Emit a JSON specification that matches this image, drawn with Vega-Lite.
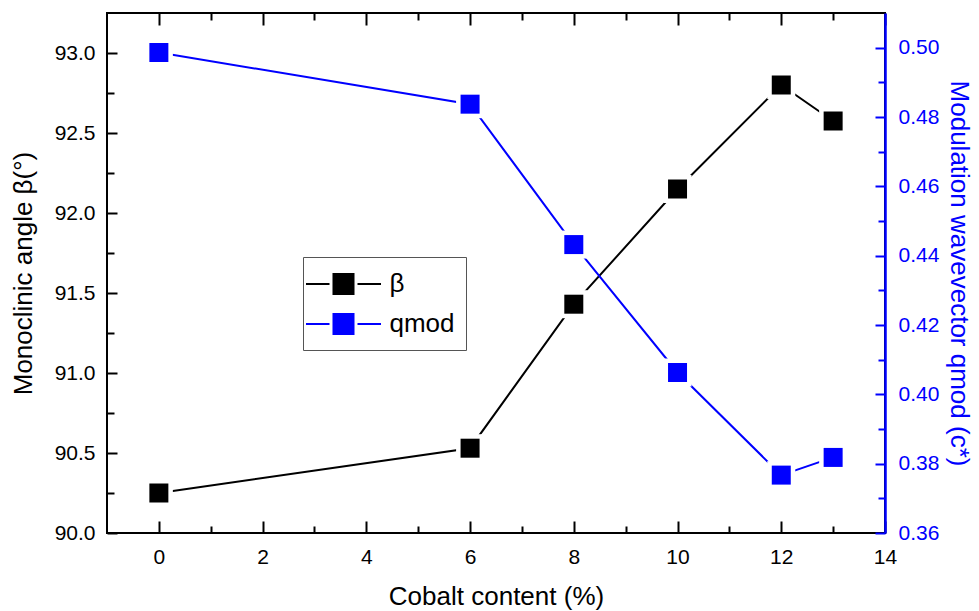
{
  "$schema": "https://vega.github.io/schema/vega-lite/v6.json",
  "width": 778,
  "height": 520,
  "autosize": {"type": "none"},
  "padding": {"left": 107, "top": 13, "right": 94, "bottom": 78},
  "background": "white",
  "config": {
    "view": {"stroke": "black", "strokeWidth": 2},
    "font": "Liberation Sans",
    "axis": {
      "grid": false,
      "labelFont": "Liberation Sans",
      "titleFont": "Liberation Sans",
      "labelFontSize": 21,
      "titleFontSize": 26,
      "titleFontWeight": "normal",
      "domainWidth": 2,
      "tickWidth": 2,
      "domainColor": "black",
      "tickColor": "black",
      "labelColor": "black",
      "titleColor": "black"
    }
  },
  "datasets": {
    "betaData": [
      {"cobalt": 0, "beta": 90.25},
      {"cobalt": 6, "beta": 90.53},
      {"cobalt": 8, "beta": 91.43},
      {"cobalt": 10, "beta": 92.15},
      {"cobalt": 12, "beta": 92.80},
      {"cobalt": 13, "beta": 92.575}
    ],
    "qData": [
      {"cobalt": 0, "qmod": 0.4986},
      {"cobalt": 6, "qmod": 0.4837},
      {"cobalt": 8, "qmod": 0.4432},
      {"cobalt": 10, "qmod": 0.4063},
      {"cobalt": 12, "qmod": 0.3767},
      {"cobalt": 13, "qmod": 0.3818}
    ]
  },
  "layer": [
    {
      "data": {"name": "betaData"},
      "encoding": {
        "x": {
          "field": "cobalt",
          "type": "quantitative",
          "scale": {"domain": [-1, 14], "nice": false, "zero": false},
          "axis": {
            "orient": "bottom",
            "title": "Cobalt content (%)",
            "values": [0, 2, 4, 6, 8, 10, 12, 14],
            "domain": false,
            "offset": -12,
            "tickSize": 12,
            "labelPadding": 13,
            "titlePadding": 16,
            "labelFlush": false
          }
        },
        "y": {
          "field": "beta",
          "type": "quantitative",
          "scale": {"domain": [90, 93.25], "nice": false, "zero": false},
          "axis": {
            "orient": "left",
            "title": "Monoclinic angle β(°)",
            "values": [90, 90.5, 91, 91.5, 92, 92.5, 93],
            "format": ".1f",
            "domain": false,
            "offset": -10,
            "tickSize": 10,
            "labelPadding": 12,
            "titlePadding": 18,
            "labelFlush": false
          }
        }
      },
      "layer": [
        {
          "mark": {"type": "line", "strokeWidth": 2},
          "encoding": {
            "color": {
              "datum": "β",
              "type": "nominal",
              "scale": {"domain": ["β", "qmod"], "range": ["black", "#0000ff"]},
              "legend": {
                "title": null,
                "orient": "none",
                "legendX": 196,
                "legendY": 244,
                "direction": "vertical",
                "symbolType": "M-2.5,0H-0.933M0.933,0H2.5M-0.667,-0.667H0.667V0.667H-0.667Z",
                "symbolSize": 900,
                "symbolOffset": 13.5,
                "symbolStrokeWidth": 2,
                "labelOffset": 30,
                "labelFont": "Liberation Sans",
                "labelFontSize": 26,
                "labelColor": "black",
                "rowPadding": 9,
                "padding": 11,
                "strokeColor": "#555555",
                "fillColor": "white"
              }
            }
          }
        },
        {"mark": {"type": "point", "shape": "square", "filled": true, "color": "white", "size": 784, "opacity": 1}},
        {
          "mark": {"type": "point", "shape": "square", "filled": true, "size": 361, "opacity": 1},
          "encoding": {"color": {"datum": "β", "type": "nominal"}}
        }
      ]
    },
    {
      "data": {"name": "qData"},
      "encoding": {
        "x": {
          "field": "cobalt",
          "type": "quantitative",
          "scale": {"domain": [-1, 14], "nice": false, "zero": false},
          "axis": {
            "orient": "top",
            "title": null,
            "labels": false,
            "domain": false,
            "values": [0, 2, 4, 6, 8, 10, 12, 14],
            "offset": -12,
            "tickSize": 12
          }
        },
        "y": {
          "field": "qmod",
          "type": "quantitative",
          "scale": {"domain": [0.36, 0.51], "nice": false, "zero": false},
          "axis": {
            "orient": "right",
            "title": "Modulation wavevector qmod (c*)",
            "values": [0.36, 0.38, 0.40, 0.42, 0.44, 0.46, 0.48, 0.50],
            "format": ".2f",
            "ticks": false,
            "tickSize": 0,
            "labelPadding": 13,
            "titlePadding": 7,
            "labelFlush": false,
            "domainWidth": 2.5,
            "domainColor": "#0000ff",
            "labelColor": "#0000ff",
            "titleColor": "#0000ff"
          }
        }
      },
      "layer": [
        {
          "mark": {"type": "line", "strokeWidth": 2},
          "encoding": {"color": {"datum": "qmod", "type": "nominal"}}
        },
        {"mark": {"type": "point", "shape": "square", "filled": true, "color": "white", "size": 784, "opacity": 1}},
        {
          "mark": {"type": "point", "shape": "square", "filled": true, "size": 361, "opacity": 1},
          "encoding": {"color": {"datum": "qmod", "type": "nominal"}}
        }
      ]
    },
    {
      "data": {"name": "betaData"},
      "mark": {"type": "point", "opacity": 0},
      "encoding": {
        "x": {
          "field": "cobalt",
          "type": "quantitative",
          "scale": {"domain": [-1, 14], "nice": false, "zero": false},
          "axis": {
            "orient": "bottom",
            "title": null,
            "labels": false,
            "domain": false,
            "values": [1, 3, 5, 7, 9, 11, 13],
            "offset": -7,
            "tickSize": 7
          }
        },
        "y": {
          "field": "beta",
          "type": "quantitative",
          "scale": {"domain": [90, 93.25], "nice": false, "zero": false},
          "axis": {
            "orient": "left",
            "title": null,
            "labels": false,
            "domain": false,
            "values": [90.25, 90.75, 91.25, 91.75, 92.25, 92.75],
            "offset": -7,
            "tickSize": 7
          }
        }
      }
    },
    {
      "data": {"name": "qData"},
      "mark": {"type": "point", "opacity": 0},
      "encoding": {
        "x": {
          "field": "cobalt",
          "type": "quantitative",
          "scale": {"domain": [-1, 14], "nice": false, "zero": false},
          "axis": {
            "orient": "top",
            "title": null,
            "labels": false,
            "domain": false,
            "values": [1, 3, 5, 7, 9, 11, 13],
            "offset": -7,
            "tickSize": 7
          }
        },
        "y": {
          "field": "qmod",
          "type": "quantitative",
          "scale": {"domain": [0.36, 0.51], "nice": false, "zero": false},
          "axis": {
            "orient": "right",
            "title": null,
            "labels": false,
            "domain": false,
            "values": [0.36, 0.38, 0.40, 0.42, 0.44, 0.46, 0.48, 0.50],
            "offset": -10,
            "tickSize": 10,
            "tickColor": "#0000ff"
          }
        }
      }
    },
    {
      "data": {"name": "qData"},
      "mark": {"type": "point", "opacity": 0},
      "encoding": {
        "x": {
          "field": "cobalt",
          "type": "quantitative",
          "scale": {"domain": [-1, 14], "nice": false, "zero": false},
          "axis": null
        },
        "y": {
          "field": "qmod",
          "type": "quantitative",
          "scale": {"domain": [0.36, 0.51], "nice": false, "zero": false},
          "axis": {
            "orient": "right",
            "title": null,
            "labels": false,
            "domain": false,
            "values": [0.37, 0.39, 0.41, 0.43, 0.45, 0.47, 0.49],
            "offset": -7,
            "tickSize": 7,
            "tickColor": "#0000ff"
          }
        }
      }
    }
  ],
  "resolve": {
    "scale": {"y": "independent"},
    "axis": {"x": "independent", "y": "independent"}
  }
}
